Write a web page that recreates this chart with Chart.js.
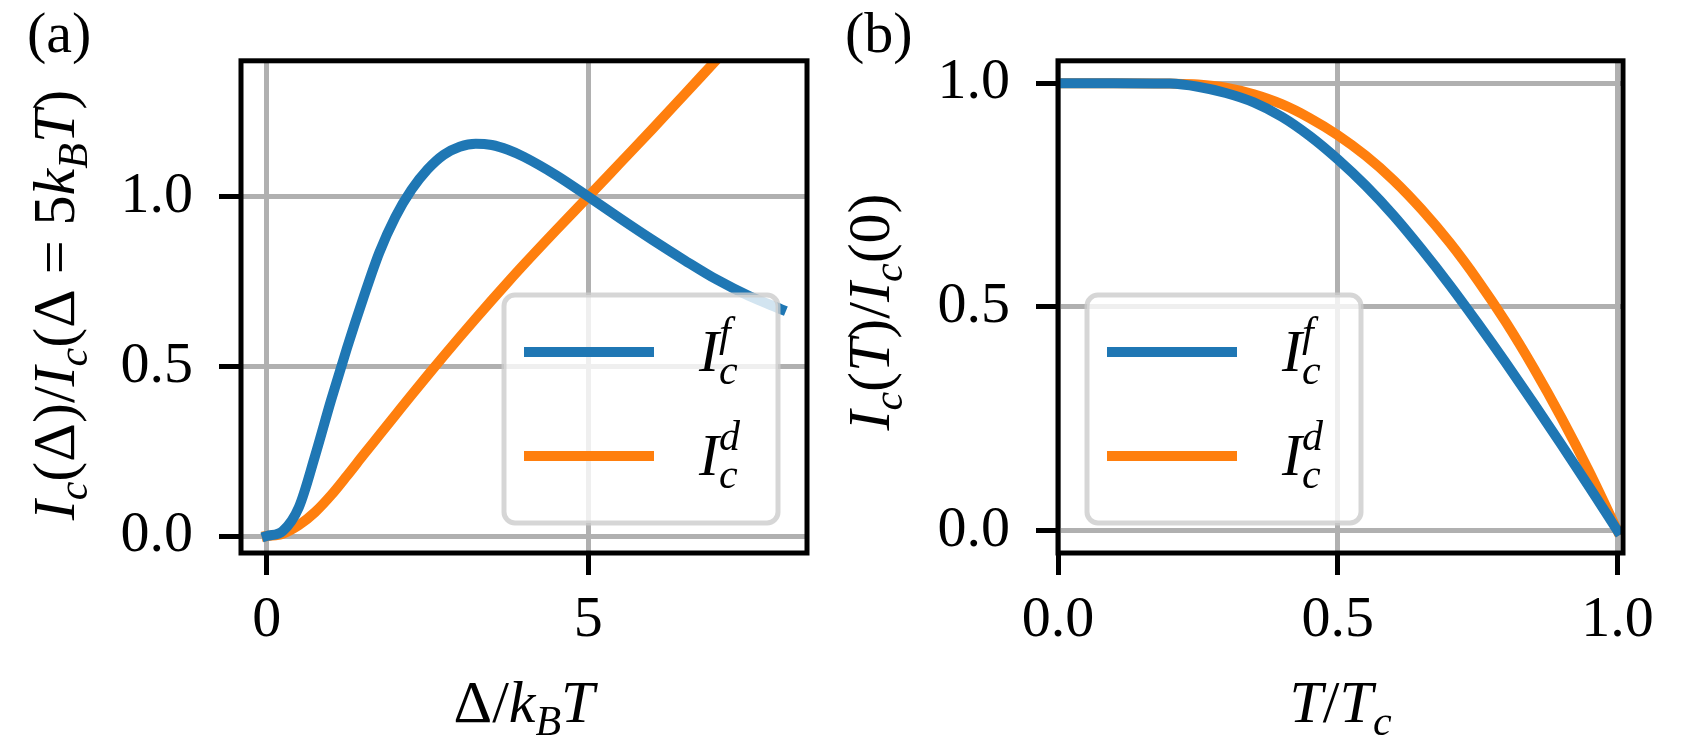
<!DOCTYPE html>
<html>
<head>
<meta charset="utf-8">
<script src="https://cdn.jsdelivr.net/npm/chart.js@4.4.1/dist/chart.umd.min.js"></script>
<style>
  html, body { margin: 0; padding: 0; background: #fff; }
  #wrap { position: relative; width: 1684px; height: 744px; }
  canvas { position: absolute; top: 0; }
  #chartA { left: 0; }
  #chartB { left: 842px; }
</style>
</head>
<body>
<div id="wrap">
  <canvas id="chartA" width="842" height="744"></canvas>
  <canvas id="chartB" width="842" height="744"></canvas>
</div>
<script>
// values
// (a) Ic vs gap
const gapX = [0, 0.25, 0.5, 0.75, 1, 1.25, 1.5, 1.75, 2, 2.25, 2.5, 2.75, 3, 3.25, 3.5, 3.75, 4, 4.5, 5, 5.5, 6, 6.5, 7, 7.5, 8];
const gapFree = [0, 0.015, 0.085, 0.235, 0.40, 0.555, 0.70, 0.835, 0.94, 1.02, 1.08, 1.123, 1.147, 1.156, 1.152, 1.138, 1.117, 1.063, 1.0, 0.935, 0.872, 0.812, 0.755, 0.707, 0.668];
const gapDirect = [0, 0.007, 0.032, 0.07, 0.12, 0.178, 0.238, 0.297, 0.356, 0.415, 0.473, 0.530, 0.586, 0.641, 0.695, 0.748, 0.800, 0.901, 1.0, 1.10, 1.20, 1.302, 1.404, 1.506, 1.608];
const gapTicks = [0, 5];
const gapYTicks = [0, 0.5, 1.0];

// (b) Ic vs temperature
const tempX = [0, 0.1, 0.2, 0.25, 0.3, 0.35, 0.4, 0.45, 0.5, 0.55, 0.6, 0.65, 0.7, 0.75, 0.8, 0.85, 0.9, 0.95, 1.0];
const tempFree = [1.0, 1.0, 0.999, 0.992, 0.978, 0.957, 0.925, 0.882, 0.830, 0.771, 0.704, 0.629, 0.549, 0.464, 0.376, 0.285, 0.192, 0.097, 0.0];
const tempDirect = [1.0, 1.0, 0.999, 0.997, 0.990, 0.975, 0.953, 0.922, 0.884, 0.838, 0.783, 0.718, 0.644, 0.560, 0.467, 0.364, 0.252, 0.131, 0.0];
const tempTicks = [0, 0.5, 1.0];
const tempYTicks = [0, 0.5, 1.0];

const BLUE = '#1f77b4';
const ORANGE = '#ff7f0e';

// first serif face that is really installed
function pickSerif() {
  const names = ['Liberation Serif', 'Times New Roman', 'Tinos', 'Nimbus Roman', 'FreeSerif', 'DejaVu Serif'];
  const c = document.createElement('canvas').getContext('2d');
  const probe = 'AbcIkT 0123456789 (Δ)';
  c.font = '40px monospace';
  const base = c.measureText(probe).width;
  for (const n of names) {
    c.font = '40px "' + n + '", monospace';
    if (Math.abs(c.measureText(probe).width - base) > 0.5) return '"' + n + '", serif';
  }
  return 'serif';
}
const SERIF = pickSerif();

// label pieces: r = upright, i = italic, sub / sup = scripts
const legFree = [['I', 'i'], ['c', 'sub'], ['f', 'sup']];
const legDirect = [['I', 'i'], ['c', 'sub'], ['d', 'sup']];
const titleXA = [['Δ/', 'r'], ['k', 'i'], ['B', 'sub'], ['T', 'i']];
const titleYA = [['I', 'i'], ['c', 'sub'], ['(Δ)/', 'r'], ['I', 'i'], ['c', 'sub'], ['(Δ = 5', 'r'], ['k', 'i'], ['B', 'sub'], ['T', 'i'], [')', 'r']];
const titleXB = [['T', 'i'], ['/', 'r'], ['T', 'i'], ['c', 'sub']];
const titleYB = [['I', 'i'], ['c', 'sub'], ['(', 'r'], ['T', 'i'], [')/', 'r'], ['I', 'i'], ['c', 'sub'], ['(0)', 'r']];

function pts(xs, ys) {
  return xs.map((x, i) => ({ x: x, y: ys[i] }));
}

function fontFor(style, size) {
  if (style === 'sub' || style === 'sup') return 'italic ' + (size * 0.7) + 'px ' + SERIF;
  return (style === 'i' ? 'italic ' : '') + size + 'px ' + SERIF;
}

// lay out a small math string, returns pieces with offsets
function layoutMath(ctx, parts, size) {
  let x = 0, scriptStart = 0, scriptEnd = 0, prev = null;
  const out = [];
  parts.forEach(p => {
    const t = p[0], s = p[1];
    ctx.font = fontFor(s, size);
    const w = ctx.measureText(t).width;
    let dy = 0;
    if (s === 'sub') dy = size * 0.22;
    if (s === 'sup') dy = -size * 0.42;
    if (s === 'sup' && prev === 'sub') {
      out.push({ t: t, s: s, x: scriptStart, dy: dy });
      scriptEnd = Math.max(scriptEnd, scriptStart + w);
      x = scriptEnd;
    } else {
      if (s === 'sub' || s === 'sup') scriptStart = x;
      out.push({ t: t, s: s, x: x, dy: dy });
      x += w;
      scriptEnd = x;
    }
    prev = s;
  });
  return { items: out, width: x };
}

function drawMath(ctx, parts, x, y, size, angle, align) {
  const lay = layoutMath(ctx, parts, size);
  ctx.save();
  ctx.translate(x, y);
  ctx.rotate(angle || 0);
  ctx.fillStyle = '#000';
  ctx.textBaseline = 'alphabetic';
  ctx.textAlign = 'left';
  const x0 = align === 'left' ? 0 : -lay.width / 2;
  lay.items.forEach(it => {
    ctx.font = fontFor(it.s, size);
    ctx.fillText(it.t, x0 + it.x, it.dy);
  });
  ctx.restore();
}

function roundBox(ctx, x, y, w, h, r) {
  ctx.beginPath();
  ctx.moveTo(x + r, y);
  ctx.lineTo(x + w - r, y);
  ctx.arcTo(x + w, y, x + w, y + r, r);
  ctx.lineTo(x + w, y + h - r);
  ctx.arcTo(x + w, y + h, x + w - r, y + h, r);
  ctx.lineTo(x + r, y + h);
  ctx.arcTo(x, y + h, x, y + h - r, r);
  ctx.lineTo(x, y + r);
  ctx.arcTo(x, y, x + r, y, r);
  ctx.closePath();
}

// black box around the plot area
const framePlugin = {
  id: 'frame',
  afterDatasetsDraw(chart) {
    const { ctx, chartArea: a } = chart;
    ctx.save();
    ctx.strokeStyle = '#000';
    ctx.lineWidth = 5;
    ctx.strokeRect(a.left, a.top, a.right - a.left, a.bottom - a.top);
    ctx.restore();
  }
};

// legend, axis titles and panel letter
const mathPlugin = {
  id: 'mathText',
  afterDraw(chart, args, opts) {
    const { ctx, chartArea: a } = chart;
    const bw = 274, bh = 228;
    const bx = opts.legendSide === 'right' ? a.right - 29 - bw : a.left + 29;
    const by = a.bottom - 30 - bh;
    ctx.save();
    roundBox(ctx, bx, by, bw, bh, 11);
    ctx.fillStyle = 'rgba(255,255,255,0.8)';
    ctx.fill();
    ctx.strokeStyle = 'rgba(204,204,204,0.8)';
    ctx.lineWidth = 5;
    ctx.stroke();
    chart.data.datasets.forEach((ds, i) => {
      const ly = by + 57 + i * 104;
      ctx.beginPath();
      ctx.moveTo(bx + 20, ly);
      ctx.lineTo(bx + 150, ly);
      ctx.strokeStyle = ds.borderColor;
      ctx.lineWidth = 10;
      ctx.stroke();
      drawMath(ctx, ds.mathLabel, bx + 195, ly + 19, 60, 0, 'left');
    });
    ctx.restore();

    drawMath(ctx, opts.xTitle, (a.left + a.right) / 2, 722, 60, 0);
    drawMath(ctx, opts.yTitle, opts.yTitleX, opts.yTitleY, 60, -Math.PI / 2);

    ctx.save();
    ctx.font = '58px ' + SERIF;
    ctx.fillStyle = '#000';
    ctx.textAlign = 'left';
    ctx.textBaseline = 'alphabetic';
    ctx.fillText(opts.panel, opts.panelX, 52);
    ctx.restore();
  }
};

function axis(min, max, ticks, fmt, size, horizontal) {
  return {
    type: 'linear',
    min: min,
    max: max,
    afterBuildTicks: s => { s.ticks = ticks.map(v => ({ value: v })); },
    afterFit: s => {
      if (horizontal) s.height = 191;
      else s.width = size;
    },
    grid: {
      color: '#b0b0b0',
      lineWidth: 5,
      drawTicks: true,
      tickLength: 22,
      tickColor: '#000',
      tickWidth: 5
    },
    border: { display: false },
    ticks: {
      color: '#000',
      font: { family: SERIF, size: 58 },
      padding: horizontal ? 11 : 26,
      maxRotation: 0,
      autoSkip: false,
      callback: fmt
    },
    title: { display: false }
  };
}

function lineSet(label, data, color, math) {
  return {
    label: label,
    data: data,
    borderColor: color,
    backgroundColor: color,
    borderWidth: 10,
    borderCapStyle: 'square',
    pointRadius: 0,
    fill: false,
    cubicInterpolationMode: 'monotone',
    clip: 0,
    mathLabel: math
  };
}

const one = v => v.toFixed(1);

new Chart(document.getElementById('chartA').getContext('2d'), {
  type: 'line',
  data: {
    datasets: [
      lineSet('Ic f', pts(gapX, gapFree), BLUE, legFree),
      lineSet('Ic d', pts(gapX, gapDirect), ORANGE, legDirect)
    ]
  },
  options: {
    responsive: false,
    animation: false,
    devicePixelRatio: 1,
    layout: { padding: { top: 43, right: 35, left: 0, bottom: 0 } },
    scales: {
      x: axis(-0.4, 8.4, gapTicks, v => String(v), 0, true),
      y: axis(-0.05, 1.4, gapYTicks, one, 241, false)
    },
    plugins: {
      legend: { display: false },
      tooltip: { enabled: false },
      mathText: {
        legendSide: 'right',
        xTitle: titleXA,
        yTitle: titleYA,
        yTitleX: 74,
        yTitleY: 305,
        panel: '(a)',
        panelX: 27
      }
    }
  },
  plugins: [framePlugin, mathPlugin]
});

new Chart(document.getElementById('chartB').getContext('2d'), {
  type: 'line',
  data: {
    datasets: [
      lineSet('Ic f', pts(tempX, tempFree), BLUE, legFree),
      lineSet('Ic d', pts(tempX, tempDirect), ORANGE, legDirect)
    ]
  },
  options: {
    responsive: false,
    animation: false,
    devicePixelRatio: 1,
    layout: { padding: { top: 43, right: 61, left: 0, bottom: 0 } },
    scales: {
      x: axis(0, 1.01, tempTicks, one, 0, true),
      y: axis(-0.05, 1.05, tempYTicks, one, 216, false)
    },
    plugins: {
      legend: { display: false },
      tooltip: { enabled: false },
      mathText: {
        legendSide: 'left',
        xTitle: titleXB,
        yTitle: titleYB,
        yTitleX: 47,
        yTitleY: 312,
        panel: '(b)',
        panelX: 3
      }
    }
  },
  plugins: [framePlugin, mathPlugin]
});
</script>
</body>
</html>
